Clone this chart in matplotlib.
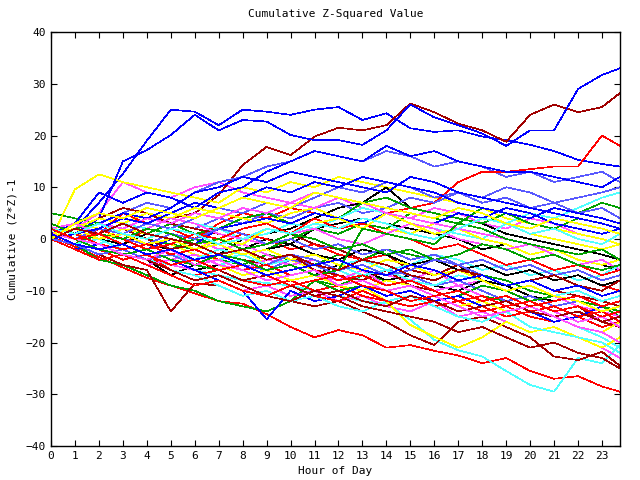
import matplotlib
matplotlib.use("Agg")
import matplotlib.pyplot as plt

# hour of day (hourly readings, last one at 23:45)
hours = list(range(24)) + [23.75]

# cumulative (Z*Z)-1 walks, grouped by line colour
red_walks = [
    [0.5, -1.5, -3.5, -5.5, -7.5, -9, -10.5, -12, -12.5, -14.5, -17, -19, -17.6, -18.6, -21, -20.5, -21.6, -22.5, -24, -23, -25.5, -27, -26.5, -28.5, -29.5],
    [1, 2, 0, -1, 2, 1, 0, 3, 5, 4, 6, 5, 4, 6, 5, 6, 7, 11, 13, 13, 13.5, 14, 14, 20, 18],
    [2, 0, -2, -4, -3, -6, -7, -6, -8, -9, -8, -10, -9, -11, -12, -11, -13, -12, -14, -13, -15, -16, -15, -17, -16],
    [0, 3, 1, 5, 3, 2, 0, -1, 1, 0, -2, -1, -3, -4, -3, -5, -4, -6, -5, -7, -6, -8, -7, -9, -10],
    [1, -1, 2, 0, -2, -1, 1, 0, 2, 3, 1, 4, 2, 3, 1, 0, -2, -1, -3, -5, -4, -6, -5, -7, -6],
    [0, -2, -4, -3, -5, -7, -9, -8, -10, -11, -9, -11, -12, -10, -12, -13, -12, -14, -13, -15, -14, -13, -15, -14, -16],
    [0, 1, -1, -2, -1, -3, -2, -4, -6, -5, -7, -6, -8, -7, -9, -8, -10, -12, -11, -13, -12, -14, -13, -15, -14],
    [2, 0, 1, -1, -3, -5, -4, -6, -5, -7, -9, -8, -7, -9, -10, -12, -11, -10, -12, -11, -13, -12, -11, -13, -12],
]
green_walks = [
    [5, 4, 3, 2, 0, -1, -2, -4, -5, -3, -4, -5, -3, -4, -2, -3, -4, -6, -7, -8, -10, -11, -12, -13, -14],
    [1, -1, -4, -5, -7, -9, -10, -12, -13, -14, -12, -8, -9, -7, -8, -9, -10, -9, -11, -12, -11, -13, -12, -13, -15],
    [2, 1, 0, 2, 1, 3, 1, 2, 4, 5, 3, 2, 4, 7, 8, 6, 5, 4, 3, 5, 4, 6, 5, 7, 6],
    [0, 2, 3, 1, 0, -2, 0, -1, -3, -2, 0, 2, 1, 3, 2, 5, 4, 3, 6, 5, 3, 2, 4, 3, 2],
    [3, 1, -1, -2, -4, -3, -5, -6, -8, -7, -9, -8, -10, -9, -11, -10, -12, -11, -9, -10, -12, -11, -10, -12, -11],
    [0, -1, 1, 0, 2, 1, -1, 0, -2, -1, 1, 0, -2, -1, -3, -2, -4, -3, -1, -2, -4, -3, -5, -6, -5],
    [1, 0, -2, -3, -2, -4, -5, -3, -4, -6, -5, -7, -6, 2, 1, 0, -1, 3, 2, 0, -1, -2, -3, -2, -4],
]
blue_walks = [
    [0, 2, 7, 12.6, 19, 25, 24.6, 22, 25, 24.6, 24, 25, 25.5, 23, 24.3, 21.4, 20.7, 21, 19.8, 19.1, 18.2, 17, 15.3, 14.5, 14],
    [0, 1, 4, 15, 17.2, 20.1, 24, 21, 23, 22.7, 20.1, 19.1, 19.1, 18.2, 21, 26, 23.5, 22, 20.4, 18, 21, 21, 29, 31.7, 33],
    [1, 3, 9, 7, 9, 8, 6, 9, 10, 13, 15, 17, 16, 15, 18, 16, 17, 15, 14, 13, 13, 12, 11, 10, 12],
    [0, -2, -1, -3, -2, 0, -1, 2, 3, 4, 3, 5, 4, 3, 5, 4, 3, 5, 4, 6, 5, 3, 2, 1, 2],
    [2, 0, -1, -3, -5, -4, -6, -8, -10, -15.5, -10, -12, -11, -9, -11, -10, -12, -11, -13, -12, -14, -16, -15, -13, -12],
    [0, 1, 3, 5, 4, 6, 9, 10, 12, 11, 13, 12, 11, 10, 9, 12, 11, 9, 8, 7, 6, 5, 4, 3, 2],
    [0, 1, 2, 4, 3, 5, 7, 6, 8, 10, 9, 11, 10, 12, 11, 10, 9, 7, 6, 5, 4, 6, 5, 4, 3],
    [1, -1, -2, -1, -3, -2, -4, -3, -5, -7, -6, -5, -4, -6, -7, -5, -6, -8, -7, -9, -8, -10, -9, -11, -10],
]
magenta_walks = [
    [0, 2, 5, 11, 9, 8, 10, 11, 9, 8, 7, 9, 8, 6, 5, 4, 6, 5, 3, 2, 4, 3, 1, 0, -1],
    [1, -1, -2, -4, -3, -5, -6, -8, -10, -9, -11, -10, -12, -11, -13, -14, -12, -15, -14, -16, -18, -17, -19, -21, -23],
    [0, 1, 0, -2, -1, 1, 0, -2, -1, -3, -5, -4, -6, -5, -7, -8, -6, -9, -8, -10, -12, -11, -13, -14, -15],
    [2, 3, 1, 0, 2, 4, 3, 1, 0, -1, 1, 2, 0, -1, 1, 3, 2, 0, -1, -2, -1, -3, -5, -4, -6],
    [0, -1, -2, -3, -5, -4, -3, -5, -6, -4, -5, -7, -8, -6, -9, -8, -10, -9, -11, -13, -12, -14, -16, -15, -17],
    [0, 1, 3, 2, 4, 3, 5, 4, 6, 5, 7, 6, 8, 7, 5, 4, 3, 2, 1, 0, -1, -2, -3, -2, -4],
    [1, 0, -1, -3, -4, -2, -5, -4, -6, -8, -7, -6, -9, -8, -10, -9, -11, -13, -15, -14, -13, -15, -17, -18, -20],
]
cyan_walks = [
    [0, -1, -2, -3, -4, -5, -6, -7, -8, -8.5, -9, -10, -11, -12, -12.4, -15.6, -19.5, -21.5, -22.7, -25.5, -28.2, -29.5, -23, -24, -20.5],
    [1, 3, 2, 0, -2, -1, -3, -5, -4, -6, -5, -7, -6, -8, -10, -9, -11, -10, -12, -14, -13, -15, -17, -19, -21],
    [0, 2, 1, 3, 2, 4, 3, 2, 0, 1, 3, 2, 4, 6, 5, 3, 2, 1, 0, 3, 5, 4, 6, 8, 9],
    [2, 0, -1, 1, -1, -3, -2, -4, -3, -2, -4, -3, -5, -4, -6, -5, -3, -4, -6, -5, -7, -6, -8, -7, -5],
    [0, 1, -1, -2, -4, -6, -7, -9, -11, -10, -12, -11, -13, -14, -12, -11, -13, -15, -16, -14, -17, -18, -19, -20, -22],
    [0, -1, 0, -2, -1, -3, -4, -2, -3, -5, -4, -3, -5, -7, -6, -8, -9, -7, -8, -10, -9, -11, -10, -12, -11],
    [2, 1, 3, 1, 0, 2, 1, -1, 0, 2, 1, 3, 2, 4, 3, 1, 0, 2, 4, 3, 1, 2, 0, -1, 1],
]
darkred_walks = [
    [0, -1, 1, 3, 2, 4, 5, 8.5, 14.3, 17.8, 16.2, 19.8, 21.5, 21, 22, 26.2, 24.5, 22.3, 21, 18.8, 24, 26, 24.5, 25.5, 28.2],
    [1, -1, -3, -5, -6, -14, -8.6, -9, -11, -10, -12, -13, -12, -14, -16, -18.6, -20.5, -16, -15, -17, -19, -22.7, -23.4, -21.8, -24.5],
    [0, 2, 4, 6, 5, 3, 2, 1, 0, 2, 1, -1, -2, -4, -3, -6, -7, -5, -8, -9, -8, -10, -11, -12, -13],
    [2, 1, 3, 2, 0, -2, -1, -3, -4, -5, -3, -6, -7, -8, -6, -9, -10, -12, -11, -13, -12, -14, -13, -16, -17],
    [0, -1, -3, -2, -4, -6, -8, -7, -9, -11, -12, -10, -11, -13, -14, -15, -16, -18, -17, -19, -21, -20, -22, -23, -25],
    [1, 0, -2, -1, -3, -5, -4, -6, -8, -7, -9, -11, -10, -12, -13, -11, -12, -14, -13, -12, -14, -15, -14, -16, -15],
    [0, 2, 1, 3, 1, 0, -1, -3, -2, -4, -3, -5, -6, -4, -5, -7, -8, -6, -7, -9, -8, -7, -9, -10, -8],
]
yellow_walks = [
    [0, 9.6, 12.5, 11, 10, 9, 8, 7, 10, 9, 11, 10, 12, 11, 10, 9, 8, 7, 6, 4, 3, 2, 1, 0, -1],
    [1, 3, 2, 0, -2, -1, -3, -4, -2, -5, -4, -6, -7, -9, -12, -16.6, -18.9, -21, -19, -16, -18, -17, -19, -21, -19],
    [0, 2, 4, 3, 5, 4, 6, 5, 4, 3, 5, 6, 4, 3, 2, 1, 3, 2, 0, -1, -3, -2, -4, -5, -4],
    [2, 0, -1, -3, -2, -4, -3, -5, -7, -6, -8, -7, -9, -10, -8, -9, -11, -13, -12, -14, -13, -15, -17, -18, -16],
    [0, 1, 0, 2, 1, 0, -2, 0, -1, 2, 1, 3, 4, 2, 5, 3, 1, 2, 4, 3, 1, 0, -1, -2, -1],
    [1, 2, 0, 1, -1, 0, -2, -1, -3, -2, -4, -3, -5, -6, -4, -5, -7, -6, -8, -10, -9, -11, -12, -14, -13],
    [0, 3, 5, 4, 6, 5, 4, 6, 8, 7, 6, 9, 8, 7, 6, 5, 4, 6, 5, 3, 2, 4, 3, 2, 1],
]
black_walks = [
    [0, -1, -2, -3, -4, -7, -5, -3, 0, 1, 2, 4, 6, 7, 10, 6, 5, 4, 3, 1, 0, -1, -2, -3, -4],
    [1, 0, 2, 1, -1, -2, -1, -3, -2, 0, -1, 2, 3, 4, 3, 2, 1, 0, -2, -1, -3, -2, -4, -5, -6],
    [0, -2, -1, -3, -5, -4, -6, -5, -7, -6, -8, -7, -5, -6, -8, -7, -9, -10, -8, -9, -11, -12, -11, -13, -12],
    [0, 1, 0, -1, 1, 0, -2, -1, -3, -2, -1, -3, -4, -2, -3, -5, -4, -6, -5, -7, -6, -8, -7, -9, -8],
]
lightblue_walks = [
    [0, 1, 3, 5, 7, 6, 9, 11, 12, 14, 15, 17, 16, 15, 17, 16, 14, 15, 14, 12, 13, 11, 12, 13, 11],
    [1, -1, 0, 2, 1, 3, 2, 4, 3, 5, 4, 6, 7, 5, 6, 8, 7, 9, 8, 10, 9, 7, 8, 9, 10],
    [0, 2, 1, -1, -3, -2, -4, -3, -5, -6, -4, -5, -7, -8, -6, -7, -9, -8, -10, -12, -11, -13, -12, -14, -13],
    [3, 1, 2, 0, -1, 1, 0, 2, 1, -1, 0, -2, -1, -3, -2, -4, -3, -5, -4, -6, -5, -7, -6, -8, -7],
    [1, 0, 2, 1, 3, 2, 4, 6, 5, 7, 6, 8, 10, 9, 11, 10, 8, 9, 7, 8, 6, 7, 5, 6, 4],
    [0, -1, -3, -2, -4, -3, -5, -4, -6, -5, -3, -4, -6, -5, -7, -6, -4, -5, -7, -9, -8, -10, -9, -11, -10],
]

groups = [
    (red_walks, '#ff0000'),
    (green_walks, '#00a000'),
    (blue_walks, '#0000ff'),
    (magenta_walks, '#ff50ff'),
    (cyan_walks, '#50ffff'),
    (darkred_walks, '#a00000'),
    (yellow_walks, '#ffff00'),
    (black_walks, '#000000'),
    (lightblue_walks, '#5858ff'),
]

plt.rcParams['font.family'] = 'DejaVu Sans Mono'
plt.rcParams['font.size'] = 8

fig = plt.figure(figsize=(6.4, 4.8), dpi=100)
ax = fig.add_axes([0.0797, 0.0708, 0.889, 0.8625])

# interleave the colours like gnuplot's plot order
n = max(len(g[0]) for g in groups)
for i in range(n):
    for walks, col in groups:
        if i < len(walks):
            ax.plot(hours, walks[i], color=col, lw=0.45, antialiased=False)

ax.set_xlim(0, 23.75)
ax.set_ylim(-40, 40)
ax.set_xticks(range(24))
ax.set_yticks(range(-40, 41, 10))
ax.tick_params(direction='in', top=True, right=True, length=4, width=0.8, labelsize=8)
for s in ax.spines.values():
    s.set_linewidth(1)

ax.set_title('Cumulative Z-Squared Value', fontsize=8, pad=11)
ax.set_xlabel('Hour of Day', fontsize=8, labelpad=4)
ax.set_ylabel('Cumulative (Z*Z)-1', fontsize=8, labelpad=6)

fig.savefig('out.png', dpi=100)
